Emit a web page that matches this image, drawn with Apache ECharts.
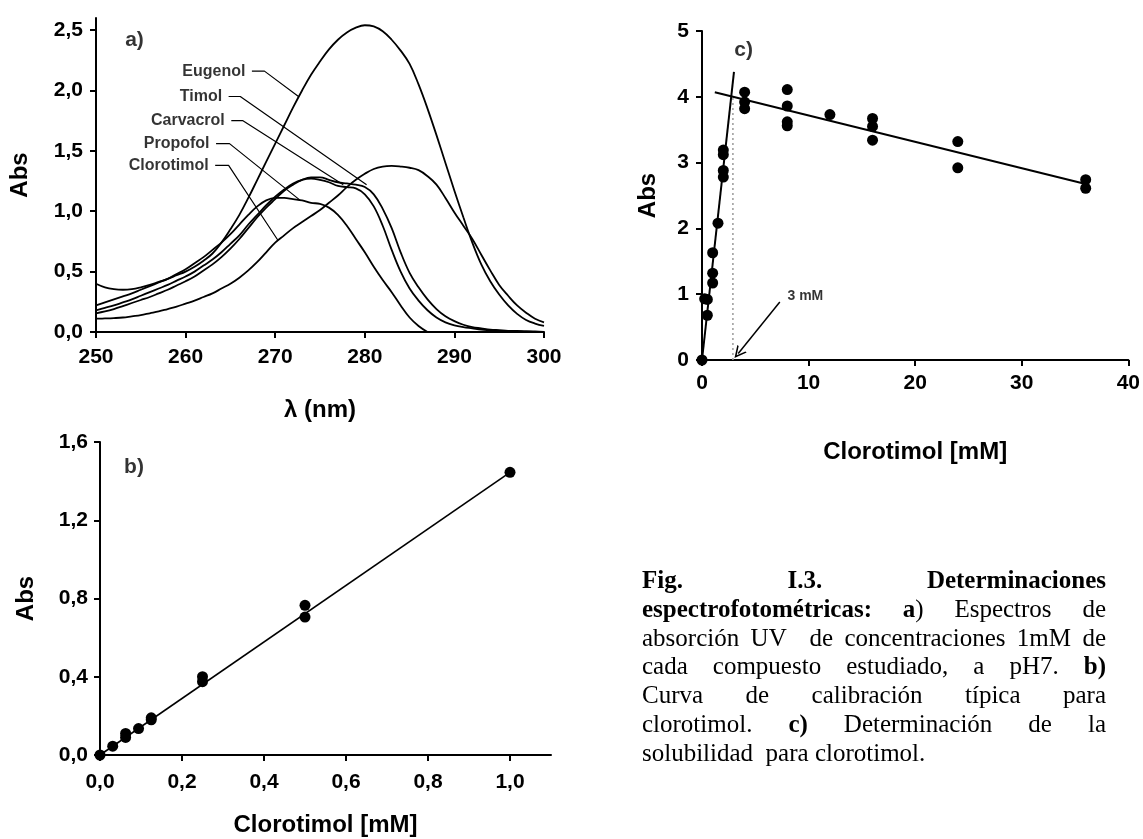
<!DOCTYPE html>
<html>
<head>
<meta charset="utf-8">
<script src="https://cdn.jsdelivr.net/npm/echarts@6/dist/echarts.min.js"></script>
<style>
html,body{margin:0;padding:0;background:#fff;}
#chart{position:absolute;left:0;top:0;width:1143px;height:839px;}
#caption{position:absolute;left:642px;top:566px;width:464px;font-family:"Liberation Serif","Times New Roman",serif;font-size:25px;line-height:28.8px;color:#000;}
#caption div{text-align:justify;text-align-last:justify;white-space:nowrap;}
#caption div.last{text-align-last:left;}
</style>
</head>
<body>
<div id="chart"></div>
<div id="caption">
<div><b>Fig. I.3. Determinaciones</b></div>
<div><b>espectrofotométricas: a</b>) Espectros de</div>
<div>absorción UV&nbsp; de concentraciones 1mM de</div>
<div>cada compuesto estudiado, a pH7. <b>b)</b></div>
<div>Curva de calibración típica para</div>
<div>clorotimol. <b>c)</b> Determinación de la</div>
<div class="last">solubilidad&nbsp; para clorotimol.</div>
</div>
<script>
// ---- Panel a: UV spectra ----
const wavelength = [250,251,252,253,254,255,256,257,258,259,260,261,262,263,264,265,266,267,268,269,270,271,272,273,274,275,276,277,278,279,280,281,282,283,284,285,286,287,288,289,290,291,292,293,294,295,296,297,298,299,300];
const eugenol = [0.40,0.37,0.355,0.35,0.355,0.37,0.39,0.415,0.44,0.47,0.50,0.54,0.59,0.65,0.74,0.85,0.97,1.11,1.26,1.41,1.56,1.71,1.86,2.00,2.13,2.24,2.34,2.42,2.48,2.52,2.54,2.53,2.49,2.42,2.33,2.22,2.05,1.85,1.63,1.40,1.17,0.95,0.74,0.56,0.42,0.31,0.22,0.15,0.10,0.07,0.05];
const timol = [0.155,0.17,0.19,0.215,0.24,0.265,0.29,0.32,0.35,0.385,0.42,0.46,0.51,0.56,0.62,0.69,0.77,0.86,0.95,1.03,1.10,1.17,1.22,1.26,1.28,1.28,1.26,1.24,1.23,1.22,1.20,1.14,1.02,0.86,0.66,0.49,0.37,0.27,0.19,0.13,0.09,0.06,0.04,0.03,0.02,0.015,0.01,0.01,0.005,0.005,0.0];
const carvacrol = [0.18,0.20,0.22,0.245,0.27,0.30,0.33,0.36,0.39,0.425,0.46,0.50,0.55,0.60,0.66,0.73,0.80,0.89,0.97,1.05,1.12,1.18,1.23,1.26,1.27,1.26,1.24,1.21,1.20,1.19,1.14,1.04,0.88,0.68,0.50,0.36,0.26,0.18,0.12,0.08,0.055,0.04,0.03,0.02,0.015,0.01,0.01,0.005,0.005,0.0,0.0];
const propofol = [0.22,0.245,0.27,0.295,0.32,0.35,0.38,0.41,0.44,0.48,0.52,0.57,0.62,0.68,0.74,0.81,0.89,0.97,1.04,1.09,1.11,1.11,1.10,1.09,1.07,1.06,1.03,0.97,0.88,0.77,0.66,0.54,0.43,0.33,0.22,0.12,0.05,0.0,null,null,null,null,null,null,null,null,null,null,null,null,null];
const clorotimol = [0.11,0.112,0.115,0.12,0.13,0.14,0.155,0.17,0.19,0.21,0.235,0.26,0.29,0.32,0.36,0.40,0.45,0.51,0.58,0.66,0.74,0.80,0.86,0.91,0.96,1.01,1.07,1.13,1.20,1.26,1.31,1.35,1.37,1.375,1.37,1.36,1.34,1.29,1.22,1.11,0.99,0.88,0.77,0.64,0.51,0.39,0.30,0.22,0.16,0.11,0.08];
const spectraNames = ['Eugenol','Timol','Carvacrol','Propofol','Clorotimol'];
const spectraValues = [eugenol, timol, carvacrol, propofol, clorotimol];
// leader lines (start of horizontal stub, end of stub, point on curve)
const eugenolLeader = [[267.4,2.16],[268.8,2.16],[272.6,1.95]];
const timolLeader = [[264.8,1.95],[266.1,1.95],[280.2,1.22]];
const carvacrolLeader = [[265.1,1.75],[266.4,1.75],[277.6,1.22]];
const propofolLeader = [[263.4,1.56],[264.9,1.56],[272.8,1.09]];
const clorotimolLeader = [[263.3,1.38],[264.8,1.38],[270.3,0.76]];
const leaders = [eugenolLeader, timolLeader, carvacrolLeader, propofolLeader, clorotimolLeader];
const spectraYTicks = [0,0.5,1.0,1.5,2.0,2.5];

// ---- Panel b: calibration ----
const calConc = [0,0.031,0.0625,0.0625,0.094,0.125,0.125,0.25,0.25,0.5,0.5,1.0];
const calAbs = [0,0.045,0.09,0.11,0.135,0.18,0.19,0.375,0.40,0.705,0.765,1.445];
const calFit = [[0,0],[1.0,1.445]];
const calXTicks = [0,0.2,0.4,0.6,0.8,1.0];

// ---- Panel c: solubility ----
const solConc = [0,0.25,0.5,0.5,1,1,1,1.5,2,2,2,2,4,4,4,8,8,8,8,12,16,16,16,24,24,36,36];
const solAbs = [0,0.93,0.68,0.92,1.17,1.32,1.63,2.08,2.78,2.88,3.12,3.19,3.82,3.92,4.07,3.56,3.62,3.86,4.11,3.73,3.34,3.55,3.67,2.92,3.32,2.61,2.74];
const solRiseLine = [[0,0],[3.0,4.38]];
const solPlateauLine = [[1.2,4.07],[35.9,2.68]];
const solLimit = [[2.9,0],[2.9,3.99]];
const solArrow = [[7.3,0.88],[3.4,0.1]];
const solLimitLabel = '3 mM';

const zip = (xs, ys) => xs.map((x, i) => [x, ys[i]]);
const comma = (d) => (v) => v.toFixed(d).replace('.', ',');
const AX = {color:'#000', width:2};
const FONT = 'Liberation Sans, Arial, sans-serif';
const tickFont = {color:'#000', fontFamily:FONT, fontWeight:'bold', fontSize:21};
const nameFont = {color:'#000', fontFamily:FONT, fontWeight:'bold', fontSize:24};

function valueAxis(o) {
  return Object.assign({
    type:'value', scale:false,
    axisLine:{show:true, onZero:false, lineStyle:AX},
    axisTick:{show:true, inside:false, length:6, lineStyle:AX},
    splitLine:{show:false},
    nameLocation:'middle', nameTextStyle:nameFont
  }, o);
}

function textMark(xi, yi, pos, txt, size, position, dist) {
  return {
    type:'scatter', xAxisIndex:xi, yAxisIndex:yi, silent:true,
    symbolSize:1, itemStyle:{color:'rgba(0,0,0,0)'},
    data:[pos],
    label:{show:true, formatter:txt, position:position || 'inside', distance: dist || 0,
      color:'#000', fontFamily:FONT, fontWeight:'bold', fontSize:size},
    z:10
  };
}

const series = [];
spectraValues.forEach((vals, i) => {
  series.push({type:'line', name:spectraNames[i], xAxisIndex:0, yAxisIndex:0, data:zip(wavelength, vals),
    smooth:0.4, showSymbol:false, connectNulls:false, lineStyle:{color:'#000', width:1.8}, silent:true});
});
leaders.forEach((pts, i) => {
  series.push({type:'line', xAxisIndex:0, yAxisIndex:0, data:pts, showSymbol:false, lineStyle:{color:'#000', width:1.2}, silent:true});
  series.push(textMark(0, 0, pts[0], spectraNames[i], 16, 'left', 6));
});
series.push(textMark(0, 0, [254.3, 2.42], 'a)', 21));

// panel c (grid 1)
series.push({type:'line', xAxisIndex:1, yAxisIndex:1, data:solLimit, showSymbol:false, lineStyle:{color:'#999', width:1.5, type:[2,3]}, silent:true});
series.push({type:'line', xAxisIndex:1, yAxisIndex:1, data:solRiseLine, showSymbol:false, lineStyle:{color:'#000', width:2}, silent:true});
series.push({type:'line', xAxisIndex:1, yAxisIndex:1, data:solPlateauLine, showSymbol:false, lineStyle:{color:'#000', width:2}, silent:true});
series.push({type:'scatter', xAxisIndex:1, yAxisIndex:1, data:zip(solConc, solAbs), symbolSize:11, itemStyle:{color:'#000', opacity:1}, silent:true, z:5});
series.push({type:'lines', coordinateSystem:'cartesian2d', xAxisIndex:1, yAxisIndex:1,
  data:[{coords:solArrow}], symbol:['none','path://M0,10 L5,0 L10,10 L8.6,10 L5,3 L1.4,10 Z'], symbolSize:[10,12],
  lineStyle:{color:'#000', width:1.5, opacity:1}, silent:true});
series.push(textMark(1, 1, [9.7, 0.97], solLimitLabel, 14));
series.push(textMark(1, 1, [3.9, 4.71], 'c)', 21));

// panel b (grid 2)
series.push({type:'line', xAxisIndex:2, yAxisIndex:2, data:calFit, showSymbol:false, lineStyle:{color:'#000', width:1.6}, silent:true});
series.push({type:'scatter', xAxisIndex:2, yAxisIndex:2, data:zip(calConc, calAbs), symbolSize:11, itemStyle:{color:'#000', opacity:1}, silent:true, z:5});
series.push(textMark(2, 2, [0.083, 1.47], 'b)', 21));

const option = {
  animation:false,
  backgroundColor:'#fff',
  grid:[
    {left:96, top:18, width:448, height:314},
    {left:702, top:31, width:428, height:329},
    {left:100, top:442, width:451, height:313}
  ],
  xAxis:[
    valueAxis({gridIndex:0, min:250, max:300, interval:10, name:'λ (nm)', nameGap:66,
      axisLabel:Object.assign({margin:15, formatter:(v)=>String(v)}, tickFont)}),
    valueAxis({gridIndex:1, min:0, max:40, interval:10, name:'Clorotimol [mM]', nameGap:80,
      axisLabel:Object.assign({margin:13, formatter:(v)=>String(v)}, tickFont)}),
    valueAxis({gridIndex:2, min:0, max:1.1, interval:0.2, name:'Clorotimol [mM]', nameGap:58,
      axisTick:{show:true, inside:false, length:6, lineStyle:AX, customValues:calXTicks},
      axisLabel:Object.assign({margin:17, formatter:comma(1), customValues:calXTicks}, tickFont)})
  ],
  yAxis:[
    valueAxis({gridIndex:0, min:0, max:2.6, interval:0.5, name:'Abs', nameGap:64,
      axisTick:{show:true, inside:false, length:6, lineStyle:AX, customValues:spectraYTicks},
      axisLabel:Object.assign({margin:13, formatter:comma(1), customValues:spectraYTicks}, tickFont)}),
    valueAxis({gridIndex:1, min:0, max:5, interval:1, name:'Abs', nameGap:42,
      axisLabel:Object.assign({margin:13, formatter:(v)=>String(v)}, tickFont)}),
    valueAxis({gridIndex:2, min:0, max:1.6, interval:0.4, name:'Abs', nameGap:62,
      axisLabel:Object.assign({margin:12, formatter:comma(1)}, tickFont)})
  ],
  series:series
};
const chart = echarts.init(document.getElementById('chart'), null, {renderer:'canvas'});
chart.setOption(option);
</script>
</body>
</html>
